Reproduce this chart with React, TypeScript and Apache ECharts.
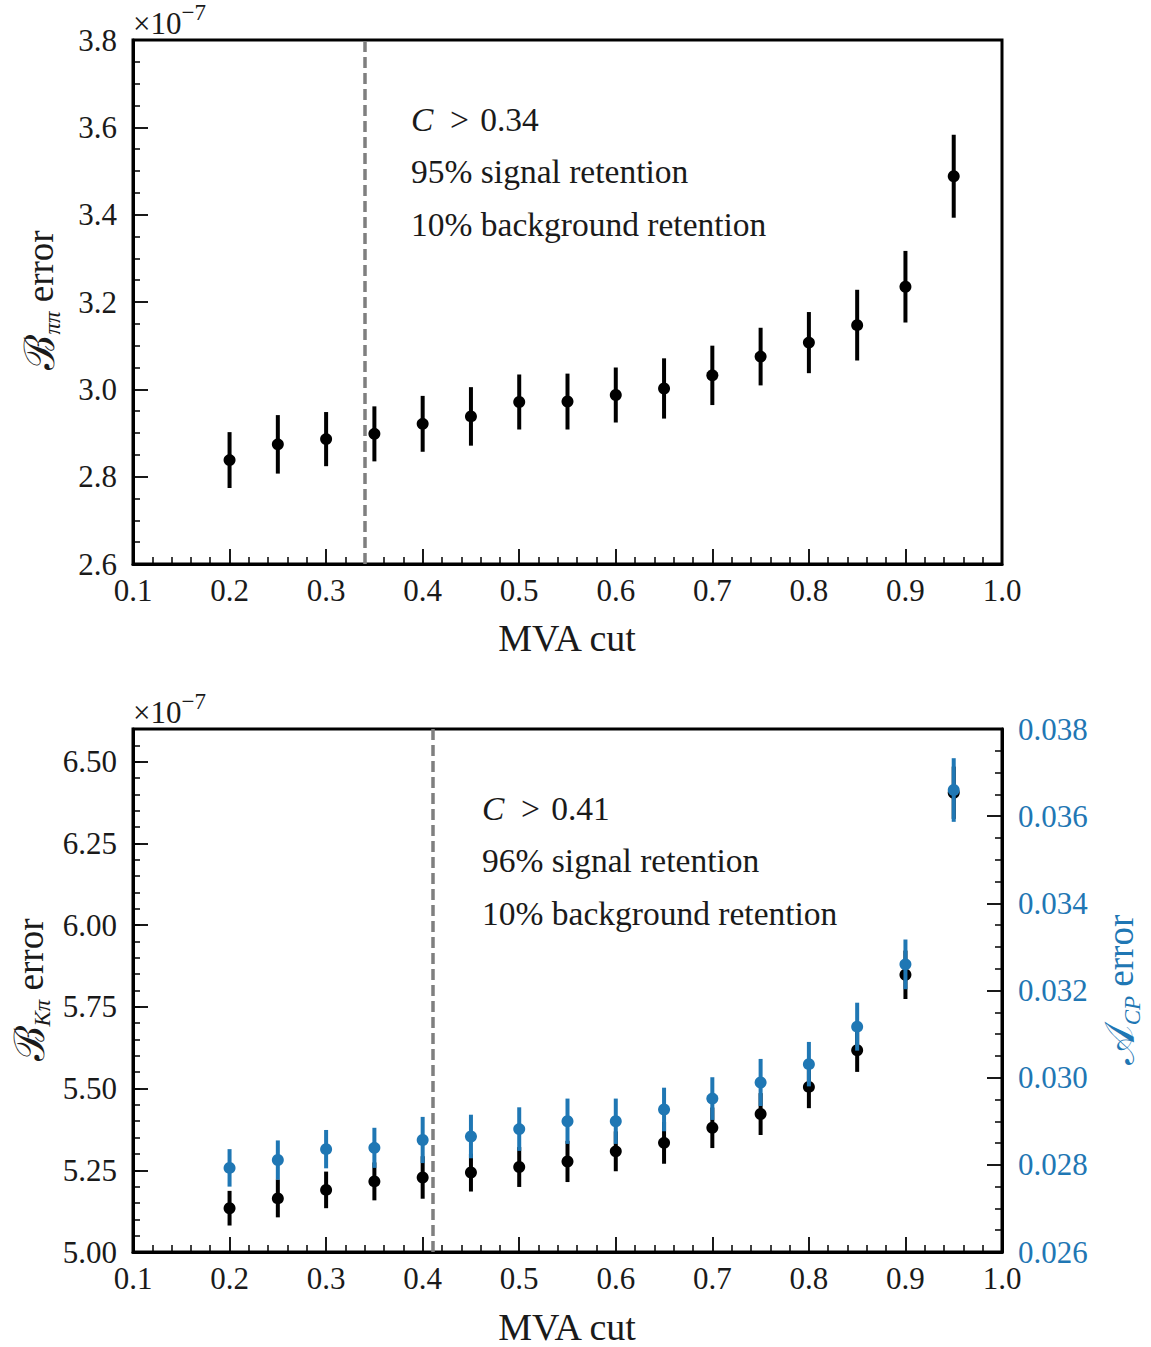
import React, { useEffect, useRef } from "react";
import * as echarts from "echarts";

const cuts = [0.2, 0.25, 0.3, 0.35, 0.4, 0.45, 0.5, 0.55, 0.6, 0.65, 0.7, 0.75, 0.8, 0.85, 0.9, 0.95];

// Top panel: B_pipi error (x 1e-7)
const bPiPi = [2.838, 2.874, 2.886, 2.898, 2.921, 2.938, 2.971, 2.972, 2.987, 3.002, 3.032, 3.075, 3.107, 3.147, 3.235, 3.488];
const bPiPiErr = [0.064, 0.067, 0.062, 0.063, 0.064, 0.067, 0.063, 0.064, 0.063, 0.069, 0.068, 0.066, 0.07, 0.081, 0.082, 0.095];

// Bottom panel: B_Kpi error (x 1e-7), left axis
const bKPi = [5.134, 5.164, 5.19, 5.216, 5.228, 5.243, 5.26, 5.277, 5.308, 5.334, 5.38, 5.422, 5.505, 5.617, 5.848, 6.405];
const bKPiErr = [0.053, 0.058, 0.056, 0.058, 0.065, 0.058, 0.061, 0.063, 0.061, 0.064, 0.062, 0.064, 0.065, 0.066, 0.074, 0.08];

// Bottom panel: A_CP error, right axis
const acp = [0.02793, 0.02811, 0.02836, 0.02839, 0.02857, 0.02865, 0.02882, 0.029, 0.029, 0.02927, 0.02952, 0.02989, 0.03031, 0.03117, 0.0326, 0.0366];
const acpErr = [0.00043, 0.00045, 0.00044, 0.00046, 0.00053, 0.0005, 0.0005, 0.00052, 0.00052, 0.0005, 0.00049, 0.00054, 0.00051, 0.00055, 0.00057, 0.00073];

const cutTop = 0.34;
const cutBottom = 0.41;
const topText = ["C > 0.34", "95% signal retention", "10% background retention"];
const bottomText = ["C > 0.41", "96% signal retention", "10% background retention"];

const FONT = "Liberation Serif";
const BLUE = "#1f77b4";
const INK = "#1a1a1a";

function errorBar(xi: number, yi: number, vals: number[], errs: number[], color: string, z: number) {
  return {
    type: "custom",
    xAxisIndex: xi,
    yAxisIndex: yi,
    z,
    clip: false,
    data: cuts.map((c, i) => [c, vals[i], errs[i]]),
    encode: { x: 0, y: 1 },
    renderItem: (params: any, api: any) => {
      const x = api.value(0);
      const y = api.value(1);
      const e = api.value(2);
      const p1 = api.coord([x, y - e]);
      const p2 = api.coord([x, y + e]);
      return {
        type: "line",
        shape: { x1: p1[0], y1: p1[1], x2: p2[0], y2: p2[1] },
        style: { stroke: color, lineWidth: 4 },
      };
    },
  };
}

function points(xi: number, yi: number, vals: number[], color: string, z: number, cut?: number) {
  const s: any = {
    type: "scatter",
    xAxisIndex: xi,
    yAxisIndex: yi,
    z,
    symbol: "circle",
    symbolSize: 12,
    itemStyle: { color, opacity: 1 },
    data: cuts.map((c, i) => [c, vals[i]]),
  };
  if (cut !== undefined) {
    s.markLine = {
      silent: true,
      symbol: "none",
      label: { show: false },
      lineStyle: { color: "#7f7f7f", width: 3.5, type: [11, 5], opacity: 1 },
      emphasis: { disabled: true },
      data: [{ xAxis: cut }],
      z: 1,
    };
  }
  return s;
}

const axisLine = { show: true, lineStyle: { color: "#000", width: 3 } };
const majorTick = { show: true, inside: true, length: 15, lineStyle: { color: "#000", width: 1.8 } };

function xAxisCfg(gridIndex: number) {
  return {
    type: "value",
    gridIndex,
    min: 0.1,
    max: 1.0,
    interval: 0.1,
    axisLine,
    axisTick: majorTick,
    minorTick: { show: true, splitNumber: 5, length: 7, lineStyle: { color: "#000", width: 1.5 } },
    splitLine: { show: false },
    axisLabel: {
      color: INK,
      fontFamily: FONT,
      fontSize: 31,
      margin: 11,
      formatter: (v: number) => v.toFixed(1),
    },
  };
}

export default function App() {
  const ref = useRef<HTMLDivElement>(null);
  useEffect(() => {
    if (!ref.current) return;
    const chart = echarts.init(ref.current, undefined, { renderer: "svg" });
    const grids = [
      { left: 133, top: 40, width: 869, height: 524 },
      { left: 133, top: 729, width: 869, height: 523 },
    ].map((g) => ({ ...g, show: true, borderColor: "#000", borderWidth: 3, backgroundColor: "transparent" }));

    const FS = 33.5;
    const textStyle = { fontFamily: FONT, fontSize: FS, fill: INK };
    const annot = (lines: string[], x: number, y0: number) =>
      lines.map((t, i) => {
        if (i === 0) {
          const parts = t.split(" > ");
          return {
            type: "text",
            x,
            y: y0 + i * 52.5,
            style: {
              text: `{i|${parts[0]}}{n|\u2002>\u2004${parts[1]}}`,
              verticalAlign: "middle",
              rich: {
                i: { fontFamily: FONT, fontSize: FS, fontStyle: "italic", fill: INK },
                n: { fontFamily: FONT, fontSize: FS, fill: INK },
              },
            },
          };
        }
        return { type: "text", x, y: y0 + i * 52.5, style: { ...textStyle, text: t, verticalAlign: "middle" } };
      });

    const sci = (x: number, y: number) => ({
      type: "text",
      x,
      y,
      style: {
        text: "{a|×10}{s|−7}",
        verticalAlign: "middle",
        rich: {
          a: { fontFamily: FONT, fontSize: 31, fill: INK, lineHeight: 38, verticalAlign: "bottom" },
          s: { fontFamily: FONT, fontSize: 23, fill: INK, lineHeight: 38, verticalAlign: "top" },
        },
      },
    });

    const ylabel = (main: string, sub: string, x: number, y: number, color: string) => ({
      type: "text",
      x,
      y,
      rotation: Math.PI / 2,
      style: {
        text: `{m|${main}}{s|${sub}}{e| error}`,
        align: "center",
        verticalAlign: "middle",
        rich: {
          m: { fontFamily: FONT, fontSize: 42, fill: color, lineHeight: 48 },
          s: { fontFamily: FONT, fontSize: 23, fill: color, lineHeight: 48, fontStyle: "italic", verticalAlign: "bottom" },
          e: { fontFamily: FONT, fontSize: 37, fill: color, lineHeight: 48 },
        },
      },
    });

    const xlabel = (y: number) => ({
      type: "text",
      x: 567,
      y,
      style: { fontFamily: FONT, fontSize: 38, fill: INK, text: "MVA cut", align: "center", verticalAlign: "middle" },
    });

    const option: any = {
      animation: false,
      backgroundColor: "#fff",
      grid: grids,
      xAxis: [xAxisCfg(0), xAxisCfg(1)],
      yAxis: [
        {
          type: "value",
          gridIndex: 0,
          min: 2.6,
          max: 3.8,
          interval: 0.2,
          axisLine,
          axisTick: majorTick,
          minorTick: { show: true, splitNumber: 4, length: 7, lineStyle: { color: "#000", width: 1.5 } },
          splitLine: { show: false },
          axisLabel: { color: INK, fontFamily: FONT, fontSize: 31, margin: 16, formatter: (v: number) => v.toFixed(1) },
        },
        {
          type: "value",
          gridIndex: 1,
          min: 5.0,
          max: 6.6,
          interval: 0.25,
          position: "left",
          axisLine,
          axisTick: majorTick,
          minorTick: { show: false },
          splitLine: { show: false },
          axisLabel: {
            color: INK,
            fontFamily: FONT,
            fontSize: 31,
            margin: 16,
            showMaxLabel: false,
            formatter: (v: number) => (Math.abs(v - 6.6) < 1e-9 ? "" : v.toFixed(2)),
          },
        },
        {
          type: "value",
          gridIndex: 1,
          min: 5.0,
          max: 6.6,
          interval: 0.05,
          position: "left",
          axisLine: { show: false },
          axisTick: { show: true, inside: true, length: 7, lineStyle: { color: "#000", width: 1.5 } },
          splitLine: { show: false },
          axisLabel: { show: false },
        },
        {
          type: "value",
          gridIndex: 1,
          min: 0.026,
          max: 0.038,
          interval: 0.002,
          position: "right",
          axisLine,
          axisTick: majorTick,
          minorTick: { show: true, splitNumber: 4, length: 7, lineStyle: { color: "#000", width: 1.5 } },
          splitLine: { show: false },
          axisLabel: { color: BLUE, fontFamily: FONT, fontSize: 31, margin: 16, formatter: (v: number) => v.toFixed(3) },
        },
      ],
      series: [
        errorBar(0, 0, bPiPi, bPiPiErr, "#000", 3),
        points(0, 0, bPiPi, "#000", 4, cutTop),
        errorBar(1, 1, bKPi, bKPiErr, "#000", 3),
        points(1, 1, bKPi, "#000", 4, cutBottom),
        errorBar(1, 3, acp, acpErr, BLUE, 5),
        points(1, 3, acp, BLUE, 6),
      ],
      graphic: [
        ...annot(topText, 411, 119),
        ...annot(bottomText, 482, 808),
        sci(133, 20),
        sci(133, 709),
        ylabel("ℬ", "ππ", 40, 300, INK),
        ylabel("ℬ", "Kπ", 30, 990, INK),
        ylabel("𝒜", "CP", 1120, 990, BLUE),
        xlabel(638),
        xlabel(1327),
      ],
    };
    chart.setOption(option);
    return () => chart.dispose();
  }, []);
  return <div ref={ref} style={{ position: "absolute", left: 0, top: 0, width: 1151, height: 1347 }} />;
}
